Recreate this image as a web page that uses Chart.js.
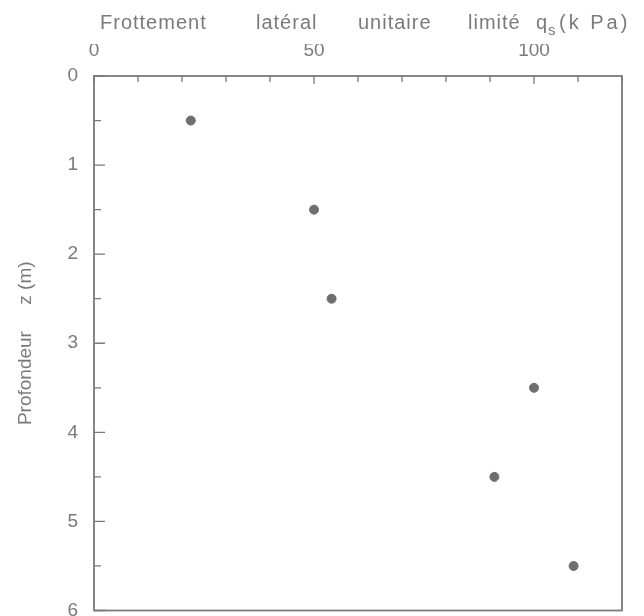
<!DOCTYPE html>
<html>
<head>
<meta charset="utf-8">
<script src="https://cdn.jsdelivr.net/npm/chart.js@4"></script>
<style>
  html, body { margin: 0; padding: 0; background: #fff; }
  #wrap { width: 644px; height: 616px; }
</style>
</head>
<body>
<div id="wrap"><canvas id="chart"></canvas></div>
<script>
// frottement lateral unitaire limite qs (kPa) vs profondeur z (m)
const qs    = [22, 50, 54, 100, 91, 109];
const depth = [0.5, 1.5, 2.5, 3.5, 4.5, 5.5];

const xLabels = [0, 50, 100];
const yLabels = [0, 1, 2, 3, 4, 5, 6];

const INK = '#7a7a7a';
const FONT = "'Liberation Sans', Arial, sans-serif";

// top title, word by word (the original is hand lettered with wide gaps)
const topTitle = {
  id: 'topTitle',
  afterDraw(chart) {
    const { ctx, chartArea: a } = chart;
    const x0 = a.left;
    const base = 29;
    ctx.save();
    ctx.fillStyle = INK;
    ctx.textBaseline = 'alphabetic';
    ctx.textAlign = 'left';
    ctx.letterSpacing = '1px';
    ctx.font = `20px ${FONT}`;
    ctx.fillText('Frottement', x0 + 6, base);
    ctx.fillText('latéral', x0 + 162, base);
    ctx.fillText('unitaire', x0 + 264, base);
    ctx.fillText('limité', x0 + 374, base);
    ctx.fillText('q', x0 + 442, base);
    ctx.font = `15px ${FONT}`;
    ctx.fillText('s', x0 + 454, base + 6);
    ctx.letterSpacing = '3px';
    ctx.font = `20px ${FONT}`;
    ctx.fillText('(k Pa)', x0 + 465, base);
    ctx.restore();
  }
};

// ticks pointing into the plot + box frame
const innerTicks = {
  id: 'innerTicks',
  afterDatasetsDraw(chart) {
    const { ctx, chartArea: a, scales } = chart;
    ctx.save();
    ctx.strokeStyle = INK;
    ctx.lineWidth = 1.8;
    ctx.strokeRect(a.left, a.top, a.right - a.left, a.bottom - a.top);
    ctx.lineWidth = 1.3;
    ctx.beginPath();
    scales.x.ticks.forEach(t => {
      const x = scales.x.getPixelForValue(t.value);
      const len = t.value % 50 === 0 ? 8 : 6;
      ctx.moveTo(x, a.top);
      ctx.lineTo(x, a.top + len);
    });
    scales.y.ticks.forEach(t => {
      const y = scales.y.getPixelForValue(t.value);
      const len = Number.isInteger(t.value) ? 11 : 7;
      ctx.moveTo(a.left, y);
      ctx.lineTo(a.left + len, y);
    });
    ctx.stroke();
    ctx.restore();
  }
};

new Chart(document.getElementById('chart'), {
  type: 'scatter',
  data: {
    datasets: [{
      data: qs.map((v, i) => ({ x: v, y: depth[i] })),
      backgroundColor: '#6e6e6e',
      borderColor: '#6e6e6e',
      pointRadius: 4.5,
      pointHoverRadius: 4.5
    }]
  },
  options: {
    responsive: true,
    maintainAspectRatio: false,
    animation: false,
    layout: { padding: { top: 44, right: 22, left: 14, bottom: 5 } },
    plugins: { legend: { display: false }, tooltip: { enabled: false } },
    scales: {
      x: {
        position: 'top',
        min: 0, max: 120,
        grid: { display: false, drawTicks: false },
        border: { display: false },
        afterFit(s) { s.height = 32; s.paddingLeft = 0; s.paddingRight = 0; },
        ticks: {
          stepSize: 10,
          autoSkip: false,
          maxRotation: 0,
          padding: 14,
          color: INK,
          font: { family: FONT, size: 19 },
          callback: v => xLabels.includes(v) ? String(v) : ''
        }
      },
      y: {
        reverse: true,
        min: 0, max: 6,
        grid: { display: false, drawTicks: false },
        border: { display: false },
        afterFit(s) { s.width = 80; s.paddingTop = 0; s.paddingBottom = 0; },
        ticks: {
          stepSize: 0.5,
          autoSkip: false,
          padding: 16,
          color: INK,
          font: { family: FONT, size: 19 },
          callback: v => yLabels.includes(v) ? String(v) : ''
        },
        title: {
          display: true,
          text: 'Profondeur     z (m)',
          color: INK,
          font: { family: FONT, size: 19 },
          padding: { top: 0, bottom: 34 }
        }
      }
    }
  },
  plugins: [innerTicks, topTitle]
});
</script>
</body>
</html>
